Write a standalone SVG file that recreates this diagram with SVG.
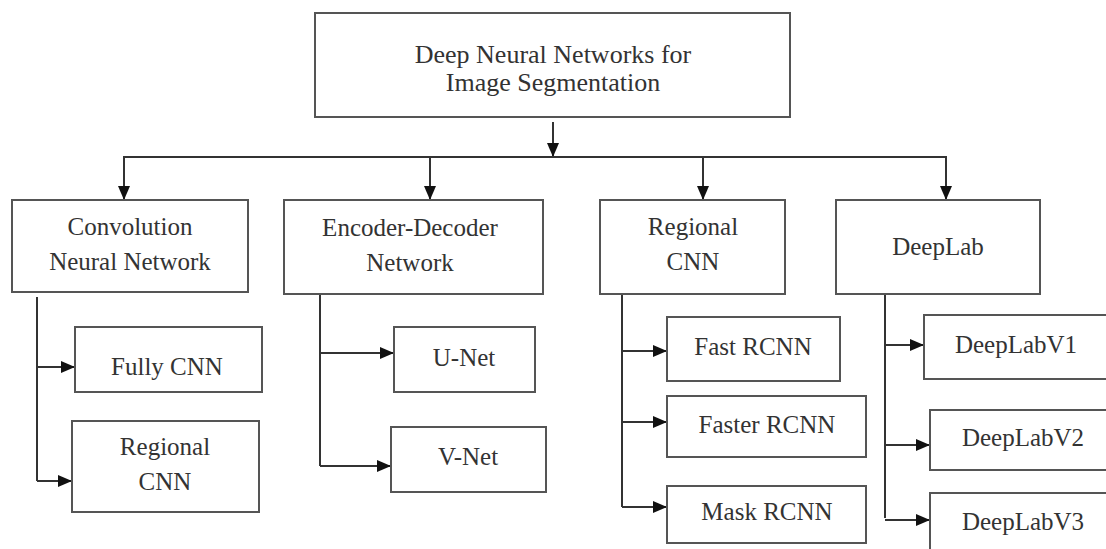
<svg xmlns="http://www.w3.org/2000/svg" width="1106" height="549" viewBox="0 0 1106 549">
<defs>
<marker id="ah" markerWidth="14" markerHeight="12" refX="14" refY="6" orient="auto" markerUnits="userSpaceOnUse" viewBox="0 0 14 12">
<path d="M0,0 L14,6 L0,12 z" fill="#111"/>
</marker>
<style>
.box{fill:#fff;stroke:#555;stroke-width:2}
.t{font-family:"Liberation Serif","Times New Roman",serif;font-size:25px;fill:#333;text-anchor:middle}
.tt{font-size:26px}
.c{fill:none;stroke:#333;stroke-width:2}
.a{fill:none;stroke:#333;stroke-width:2;marker-end:url(#ah)}
</style>
</defs>
<rect width="1106" height="549" fill="#fff"/>
<g id="connectors">
<line class="a" x1="553" y1="122" x2="553" y2="157"/>
<polyline class="c" points="124,200 124,157 946,157 946,200"/>
<line class="a" x1="124" y1="157" x2="124" y2="200"/>
<line class="a" x1="430" y1="157" x2="430" y2="200"/>
<line class="a" x1="703" y1="157" x2="703" y2="200"/>
<line class="a" x1="946" y1="157" x2="946" y2="200"/>
<line class="c" x1="37" y1="297" x2="37" y2="481"/>
<line class="a" x1="37" y1="367" x2="75" y2="367"/>
<line class="a" x1="37" y1="481" x2="72" y2="481"/>
<line class="c" x1="320" y1="295" x2="320" y2="466"/>
<line class="a" x1="320" y1="353" x2="394" y2="353"/>
<line class="a" x1="320" y1="466" x2="391" y2="466"/>
<line class="c" x1="622" y1="295" x2="622" y2="507"/>
<line class="a" x1="622" y1="351" x2="667" y2="351"/>
<line class="a" x1="622" y1="422" x2="667" y2="422"/>
<line class="a" x1="622" y1="507" x2="667" y2="507"/>
<line class="c" x1="885" y1="295" x2="885" y2="518"/>
<line class="a" x1="885" y1="345" x2="924" y2="345"/>
<line class="a" x1="885" y1="445" x2="930" y2="445"/>
<line class="a" x1="885" y1="520" x2="930" y2="520"/>
</g>
<g id="root"><rect class="box" x="315" y="13" width="475" height="104"/>
<text class="t tt" x="553" y="63">Deep Neural Networks for</text>
<text class="t tt" x="553" y="91">Image Segmentation</text></g>
<g id="cnn"><rect class="box" x="12" y="200" width="236" height="92"/>
<text class="t" x="130" y="235">Convolution</text><text class="t" x="130" y="270">Neural Network</text></g>
<g id="encdec"><rect class="box" x="284" y="200" width="259" height="94"/>
<text class="t" x="410" y="236">Encoder-Decoder</text><text class="t" x="410" y="271">Network</text></g>
<g id="rcnn"><rect class="box" x="600" y="200" width="185" height="94"/>
<text class="t" x="693" y="235">Regional</text><text class="t" x="693" y="270">CNN</text></g>
<g id="deeplab"><rect class="box" x="836" y="200" width="204" height="94"/>
<text class="t" x="938" y="255">DeepLab</text></g>
<g id="fcnn"><rect class="box" x="75" y="327" width="187" height="65"/>
<text class="t" x="167" y="375">Fully CNN</text></g>
<g id="rcnn2"><rect class="box" x="72" y="421" width="187" height="91"/>
<text class="t" x="165" y="455">Regional</text><text class="t" x="165" y="490">CNN</text></g>
<g id="unet"><rect class="box" x="394" y="327" width="141" height="65"/>
<text class="t" x="464" y="366">U-Net</text></g>
<g id="vnet"><rect class="box" x="391" y="427" width="155" height="65"/>
<text class="t" x="468" y="465">V-Net</text></g>
<g id="fast"><rect class="box" x="667" y="317" width="173" height="64"/>
<text class="t" x="753" y="355">Fast RCNN</text></g>
<g id="faster"><rect class="box" x="667" y="396" width="199" height="61"/>
<text class="t" x="767" y="433">Faster RCNN</text></g>
<g id="mask"><rect class="box" x="667" y="486" width="199" height="57"/>
<text class="t" x="767" y="520">Mask RCNN</text></g>
<g id="v1"><rect class="box" x="924" y="315" width="200" height="64"/>
<text class="t" x="1016" y="353">DeepLabV1</text></g>
<g id="v2"><rect class="box" x="930" y="410" width="200" height="60"/>
<text class="t" x="1023" y="446">DeepLabV2</text></g>
<g id="v3"><rect class="box" x="930" y="493" width="200" height="70"/>
<text class="t" x="1023" y="530">DeepLabV3</text></g>
</svg>
